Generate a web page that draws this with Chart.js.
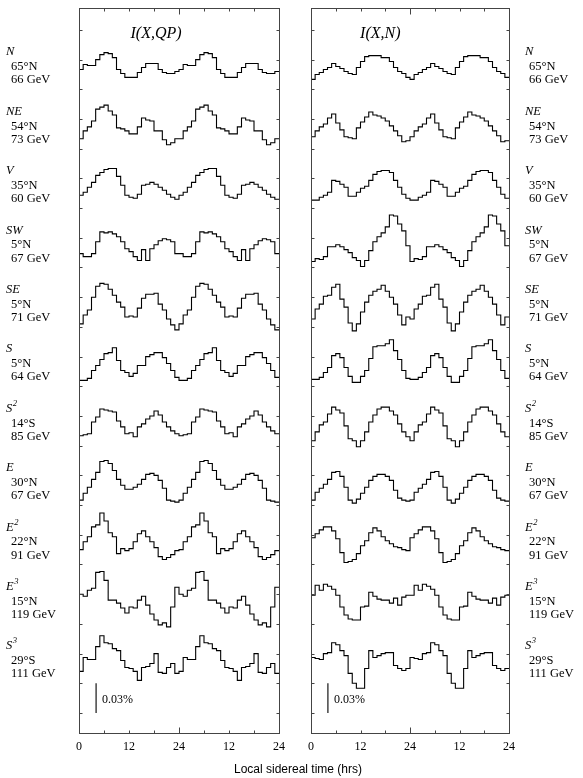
<!DOCTYPE html>
<html><head><meta charset="utf-8">
<script src="https://cdn.jsdelivr.net/npm/chart.js@4.4.1/dist/chart.umd.min.js"></script>
<style>
html,body{margin:0;padding:0;background:#fff;}
#wrap{position:relative;width:583px;height:778px;overflow:hidden;}
canvas{position:absolute;top:0;}
#cA{left:0;}
#cB{left:291px;}
#xt{position:absolute;left:0;width:596px;top:762px;text-align:center;font:12px "Liberation Sans",Arial,sans-serif;color:#000;}
</style></head><body>
<div id="wrap">
<canvas id="cA" width="291" height="778"></canvas>
<canvas id="cB" width="292" height="778"></canvas>
<div id="xt">Local sidereal time (hrs)</div>
</div>
<script>
// ---- labels ----
const xTickHours = [0, 12, 24, 36, 48];
const xTickLabels = ['0', '12', '24', '12', '24'];
const stations = ['N', 'NE', 'V', 'SW', 'SE', 'S', 'S', 'E', 'E', 'E', 'S'];
const stationSup = ['', '', '', '', '', '', '2', '', '2', '3', '3'];
const latitudes = ['65°N', '54°N', '35°N', '5°N', '5°N', '5°N', '14°S', '30°N', '22°N', '15°N', '29°S'];
const energies = ['66 GeV', '73 GeV', '60 GeV', '67 GeV', '71 GeV', '64 GeV', '85 GeV', '67 GeV', '91 GeV', '119 GeV', '111 GeV'];
const panelTitles = ['I(X,QP)', 'I(X,N)'];

// ---- hourly intensity deviations, units of 0.001 % (24 sidereal hours) ----
const qpN  = [20,25,24,24,30,35,37,36,32,20,16,12,12,12,17,22,26,26,26,20,17,16,16,18];
const qpNE = [10,18,22,28,40,42,44,38,34,21,20,18,15,15,22,31,29,28,18,18,9,4,6,10];
const qpV  = [13,16,21,26,33,36,39,40,40,32,23,13,11,10,14,23,24,26,24,21,18,14,11,9];
const qpSW = [14,11,11,14,26,36,35,36,34,31,26,19,16,11,7,18,7,19,23,27,29,28,26,14];
const qpSE = [3,12,17,30,41,44,43,38,32,25,20,10,11,10,19,29,33,33,34,23,17,8,2,-3];
const qpS  = [6,6,8,16,21,27,33,34,39,26,16,14,10,13,21,21,30,32,34,34,29,23,16,9];
const qpS2 = [10,11,12,24,29,37,36,35,34,25,19,12,13,9,19,22,27,30,35,31,24,19,15,12];
const qpE  = [5,12,18,26,33,44,45,42,35,26,20,16,16,18,21,26,31,32,30,25,17,5,4,3];
const qpE2 = [15,23,28,38,40,52,44,32,28,11,16,14,16,23,31,34,28,23,17,8,5,7,10,14];
const qpE3 = [30,28,34,36,52,53,44,24,24,21,16,11,17,16,24,28,19,10,4,-1,1,-3,17,37];
const qpS3 = [12,26,24,24,37,48,41,40,35,33,23,16,15,12,3,16,17,20,30,11,10,16,20,10];

const nN  = [10,15,17,20,22,26,23,21,18,16,15,22,28,33,34,34,34,32,32,28,22,18,16,12];
const nNE = [12,18,22,25,31,35,26,19,12,11,10,21,27,32,37,34,33,31,28,23,18,13,7,8];
const nV  = [8,8,11,13,16,28,27,24,21,12,12,16,20,22,28,34,37,38,38,36,28,21,14,10];
const nSW = [6,9,8,11,21,21,23,21,18,15,10,7,1,7,17,26,31,35,41,53,52,44,37,22];
const nSE = [8,18,23,31,32,40,43,28,20,4,-4,3,15,25,32,36,38,42,36,30,23,12,2,10];
const nS  = [7,7,9,14,19,31,33,29,19,10,4,4,10,16,28,40,41,41,43,47,36,27,16,8];
const nS2 = [5,14,21,24,32,39,36,33,20,7,5,-1,5,14,24,31,37,39,39,35,31,22,14,9];
const nE  = [5,13,17,21,26,33,34,29,18,5,2,6,12,18,25,29,31,31,29,25,15,7,5,4];
const nE2 = [27,31,35,38,38,34,26,12,2,3,5,11,19,24,32,37,34,28,24,21,18,17,15,14];
const nE3 = [29,39,34,40,38,35,29,17,9,5,4,4,17,18,32,28,25,24,24,21,26,19,27,29];
const nS3 = [26,25,24,30,31,41,39,33,28,10,0,-5,-5,15,33,26,28,30,31,31,18,15,13,15];

const qpSeries = [qpN, qpNE, qpV, qpSW, qpSE, qpS, qpS2, qpE, qpE2, qpE3, qpS3];
const nSeries  = [nN, nNE, nV, nSW, nSE, nS, nS2, nE, nE2, nE3, nS3];
const scaleBar = [0, 30];           // 0.03 %
const scaleBarLabel = '0.03%';

// ---- layout constants ----
const TOP_BASE = 630, STEP = 60;     // baseline of the top trace and spacing (0.001 %)
const Y_MIN = -20.2, Y_MAX = 712.1;
const SERIF = '"Liberation Serif","Times New Roman",serif';

function traceData(vals, k) {
  const base = TOP_BASE - STEP * k;
  const pts = [];
  for (let h = 0; h < 48; h++) pts.push({x: h, y: base + vals[h % 24]});
  pts.push({x: 48, y: base + vals[23]});
  return pts;
}

function makePanel(id, series, side, padding) {
  const datasets = series.map((vals, k) => ({
    data: traceData(vals, k), borderColor: '#000', borderWidth: 1.1,
    pointRadius: 0, stepped: true, fill: false
  }));
  datasets.push({data: [{x: 4.1, y: scaleBar[0]}, {x: 4.1, y: scaleBar[1]}],
    borderColor: '#000', borderWidth: 1.1, pointRadius: 0, fill: false});

  const deco = {
    id: 'deco' + id,
    afterDraw(chart) {
      const {ctx, chartArea: a, scales: {x, y}} = chart;
      ctx.save();
      const ln = (x1, y1, x2, y2) => { ctx.beginPath(); ctx.moveTo(x1, y1); ctx.lineTo(x2, y2); ctx.stroke(); };
      ctx.strokeStyle = '#444'; ctx.lineWidth = 1;
      const L = Math.round(a.left) + 0.5, R = Math.round(a.right) + 0.5, T = Math.round(a.top) + 0.5, B = Math.round(a.bottom) + 0.5;
      ctx.strokeRect(L, T, R - L, B - T);
      for (let h = 0; h <= 48; h += 6) {
        const px = Math.round(x.getPixelForValue(h)) + 0.5;
        const len = h === 24 ? 6 : 3;
        ln(px, B, px, B - len); ln(px, T, px, T + len);
      }
      for (let v = 0; v <= 690; v += 30) {
        const py = Math.round(y.getPixelForValue(v)) + 0.5;
        ln(L, py, L + 3, py); ln(R, py, R - 3, py);
      }
      ctx.fillStyle = '#000';
      // x tick labels
      ctx.font = '12px ' + SERIF; ctx.textAlign = 'center'; ctx.textBaseline = 'middle';
      xTickHours.forEach((h, i) => ctx.fillText(xTickLabels[i], x.getPixelForValue(h), B + 13));
      // title
      ctx.font = 'italic 16px ' + SERIF;
      ctx.fillText(panelTitles[id], x.getPixelForValue(id === 0 ? 18.5 : 16.8), y.getPixelForValue(686));
      // scale bar label
      ctx.font = '12px ' + SERIF; ctx.textAlign = 'left';
      ctx.fillText(scaleBarLabel, x.getPixelForValue(4.1) + 6, y.getPixelForValue(13));
      // station labels
      const xl = side === 'left' ? a.left - 73 : a.right + 16;
      const xs = side === 'left' ? a.left - 68 : a.right + 20;
      stations.forEach((st, k) => {
        const base = TOP_BASE - STEP * k;
        ctx.font = 'italic 12.5px ' + SERIF;
        const yl = y.getPixelForValue(base + 37.5);
        ctx.fillText(st, xl, yl);
        if (stationSup[k]) {
          const w = ctx.measureText(st).width;
          ctx.font = 'italic 8.5px ' + SERIF;
          ctx.fillText(stationSup[k], xl + w + 0.5, yl - 5);
        }
        ctx.font = '12.5px ' + SERIF;
        ctx.fillText(latitudes[k], xs, y.getPixelForValue(base + 22.6));
        ctx.fillText(energies[k], xs, y.getPixelForValue(base + 9.3));
      });
      ctx.restore();
    }
  };

  return new Chart(document.getElementById(id === 0 ? 'cA' : 'cB'), {
    type: 'line',
    data: {datasets},
    options: {
      responsive: false, animation: false, events: [],
      layout: {padding},
      plugins: {legend: {display: false}, tooltip: {enabled: false}},
      scales: {
        x: {type: 'linear', min: 0, max: 48, display: false},
        y: {type: 'linear', min: Y_MIN, max: Y_MAX, display: false}
      }
    },
    plugins: [deco]
  });
}

makePanel(0, qpSeries, 'left', {left: 79, right: 12, top: 8, bottom: 45});
makePanel(1, nSeries, 'right', {left: 20, right: 74, top: 8, bottom: 45});
</script>
</body></html>
